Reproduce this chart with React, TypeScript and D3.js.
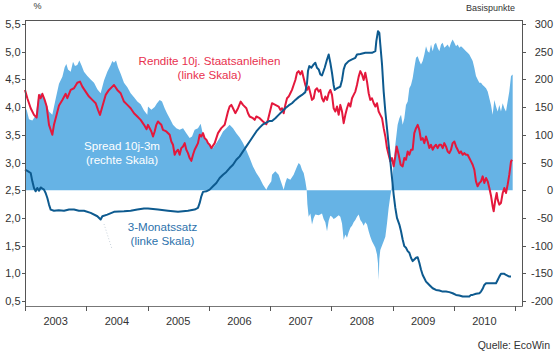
import React from 'react';
import * as d3 from 'd3';

const W = 556;
const H = 353;

const yearLabels = ['2003', '2004', '2005', '2006', '2007', '2008', '2009', '2010'];
const yearTicks = [2003, 2004, 2005, 2006, 2007, 2008, 2009, 2010, 2011];
const leftTicks = [0.5, 1, 1.5, 2, 2.5, 3, 3.5, 4, 4.5, 5, 5.5];
const rightTicks = [-200, -150, -100, -50, 0, 50, 100, 150, 200, 250, 300];

// Rendite 10j. Staatsanleihen (%), [decimal year, value]
const rendite: [number, number][] = [
  [2003.0, 4.31], [2003.038, 4.16], [2003.093, 3.98], [2003.147, 3.86], [2003.19, 3.81], [2003.229, 4.22],
  [2003.256, 4.16], [2003.283, 4.24], [2003.321, 4.13], [2003.354, 4.01], [2003.392, 3.68], [2003.446, 3.5],
  [2003.473, 3.68], [2003.501, 3.8], [2003.555, 4.03], [2003.61, 4.13], [2003.664, 4.24], [2003.691, 4.16],
  [2003.746, 4.31], [2003.8, 4.34], [2003.854, 4.44], [2003.898, 4.46], [2003.936, 4.37], [2003.99, 4.28],
  [2004.045, 4.19], [2004.099, 4.13], [2004.154, 4.07], [2004.192, 3.95], [2004.224, 3.86], [2004.263, 4.01],
  [2004.317, 4.22], [2004.371, 4.31], [2004.426, 4.37], [2004.453, 4.4], [2004.507, 4.31], [2004.562, 4.25],
  [2004.616, 4.1], [2004.671, 4.04], [2004.725, 3.98], [2004.78, 3.89], [2004.834, 3.83], [2004.888, 3.77],
  [2004.943, 3.68], [2004.985, 3.6], [2005.008, 3.68], [2005.063, 3.56], [2005.09, 3.47], [2005.117, 3.56],
  [2005.144, 3.68], [2005.171, 3.74], [2005.199, 3.71], [2005.226, 3.68], [2005.253, 3.59], [2005.307, 3.56],
  [2005.362, 3.5], [2005.389, 3.38], [2005.416, 3.32], [2005.444, 3.14], [2005.471, 3.2], [2005.498, 3.23],
  [2005.525, 3.14], [2005.552, 3.26], [2005.58, 3.29], [2005.607, 3.35], [2005.634, 3.23], [2005.661, 3.17],
  [2005.688, 3.08], [2005.716, 3.03], [2005.743, 3.14], [2005.77, 3.23], [2005.797, 3.29], [2005.824, 3.35],
  [2005.852, 3.5], [2005.879, 3.47], [2005.906, 3.53], [2005.933, 3.44], [2005.961, 3.41], [2005.988, 3.35],
  [2006.015, 3.32], [2006.042, 3.26], [2006.097, 3.35], [2006.151, 3.53], [2006.205, 3.62], [2006.26, 3.68],
  [2006.314, 3.92], [2006.341, 4.01], [2006.369, 4.04], [2006.396, 3.98], [2006.434, 3.89], [2006.478, 3.98],
  [2006.521, 4.1], [2006.559, 4.04], [2006.614, 3.98], [2006.641, 3.89], [2006.668, 3.83], [2006.722, 3.8],
  [2006.75, 3.77], [2006.777, 3.83], [2006.831, 3.8], [2006.886, 3.74], [2006.94, 3.69], [2006.967, 3.77],
  [2007.0, 3.92], [2007.033, 4.07], [2007.087, 4.04], [2007.141, 4.01], [2007.169, 3.95], [2007.196, 3.98],
  [2007.223, 3.89], [2007.25, 4.04], [2007.278, 4.16], [2007.305, 4.19], [2007.332, 4.25], [2007.359, 4.31],
  [2007.386, 4.4], [2007.414, 4.49], [2007.441, 4.62], [2007.468, 4.65], [2007.495, 4.59], [2007.522, 4.65],
  [2007.55, 4.52], [2007.577, 4.4], [2007.604, 4.31], [2007.631, 4.37], [2007.659, 4.25], [2007.686, 4.13],
  [2007.713, 4.16], [2007.74, 4.31], [2007.767, 4.34], [2007.795, 4.28], [2007.822, 4.31], [2007.849, 4.16],
  [2007.876, 4.1], [2007.903, 4.19], [2007.931, 4.13], [2007.958, 4.25], [2007.985, 4.31], [2008.012, 4.22],
  [2008.039, 3.98], [2008.067, 3.92], [2008.094, 4.01], [2008.121, 3.86], [2008.148, 4.04], [2008.176, 3.92],
  [2008.203, 3.71], [2008.23, 3.86], [2008.257, 3.98], [2008.284, 4.07], [2008.312, 4.01], [2008.339, 4.16],
  [2008.366, 4.22], [2008.393, 4.28], [2008.42, 4.4], [2008.448, 4.55], [2008.475, 4.65], [2008.502, 4.59],
  [2008.529, 4.49], [2008.556, 4.62], [2008.584, 4.46], [2008.611, 4.25], [2008.638, 4.13], [2008.665, 4.16],
  [2008.693, 4.07], [2008.72, 4.01], [2008.747, 4.07], [2008.774, 3.92], [2008.801, 3.86], [2008.829, 3.8],
  [2008.856, 3.62], [2008.883, 3.47], [2008.91, 3.26], [2008.937, 3.14], [2008.965, 3.02], [2008.992, 3.08],
  [2009.019, 2.93], [2009.046, 3.11], [2009.068, 3.29], [2009.101, 3.14], [2009.133, 2.96], [2009.166, 2.93],
  [2009.193, 3.08], [2009.22, 3.05], [2009.248, 3.2], [2009.275, 3.14], [2009.302, 3.23], [2009.329, 3.23],
  [2009.356, 3.53], [2009.384, 3.62], [2009.411, 3.68], [2009.438, 3.59], [2009.465, 3.41], [2009.493, 3.44],
  [2009.52, 3.35], [2009.547, 3.47], [2009.574, 3.38], [2009.601, 3.26], [2009.629, 3.32], [2009.656, 3.23],
  [2009.683, 3.29], [2009.71, 3.32], [2009.737, 3.26], [2009.765, 3.32], [2009.792, 3.32], [2009.819, 3.26],
  [2009.846, 3.35], [2009.873, 3.29], [2009.901, 3.2], [2009.928, 3.17], [2009.955, 3.23], [2009.982, 3.35],
  [2010.01, 3.38], [2010.037, 3.29], [2010.064, 3.23], [2010.091, 3.17], [2010.118, 3.2], [2010.146, 3.14],
  [2010.173, 3.17], [2010.2, 3.14], [2010.227, 3.14], [2010.254, 3.08], [2010.282, 3.02], [2010.309, 2.96],
  [2010.336, 2.87], [2010.363, 2.66], [2010.39, 2.57], [2010.418, 2.63], [2010.445, 2.66], [2010.472, 2.75],
  [2010.499, 2.63], [2010.527, 2.72], [2010.554, 2.66], [2010.581, 2.54], [2010.61, 2.39], [2010.635, 2.21],
  [2010.652, 2.12], [2010.679, 2.33], [2010.701, 2.45], [2010.717, 2.33], [2010.744, 2.24], [2010.771, 2.27],
  [2010.799, 2.45], [2010.826, 2.54], [2010.853, 2.45], [2010.88, 2.6], [2010.907, 2.78], [2010.935, 3.02],
  [2010.951, 3.05],
];

// 3-Monatssatz (%), [decimal year, value]
const monatssatz: [number, number][] = [
  [2003.0, 2.87], [2003.038, 2.85], [2003.093, 2.81], [2003.12, 2.66], [2003.147, 2.54], [2003.174, 2.48],
  [2003.201, 2.54], [2003.229, 2.49], [2003.256, 2.55], [2003.283, 2.53], [2003.31, 2.51], [2003.337, 2.45],
  [2003.365, 2.36], [2003.392, 2.24], [2003.419, 2.15], [2003.473, 2.13], [2003.55, 2.14], [2003.637, 2.13],
  [2003.72, 2.15], [2003.8, 2.15], [2003.88, 2.13], [2003.963, 2.13], [2004.072, 2.09], [2004.181, 2.03],
  [2004.235, 1.97], [2004.263, 2.03], [2004.344, 2.06], [2004.453, 2.11], [2004.616, 2.12], [2004.725, 2.13],
  [2004.834, 2.15], [2004.943, 2.17], [2005.008, 2.17], [2005.171, 2.15], [2005.334, 2.13], [2005.498, 2.11],
  [2005.661, 2.13], [2005.77, 2.15], [2005.824, 2.18], [2005.852, 2.27], [2005.879, 2.39], [2005.906, 2.47],
  [2005.961, 2.48], [2006.015, 2.51], [2006.069, 2.57], [2006.124, 2.63], [2006.178, 2.72], [2006.233, 2.78],
  [2006.287, 2.83], [2006.341, 2.9], [2006.396, 2.96], [2006.45, 3.05], [2006.505, 3.11], [2006.559, 3.2],
  [2006.614, 3.29], [2006.668, 3.38], [2006.722, 3.47], [2006.777, 3.56], [2006.831, 3.63], [2006.886, 3.69],
  [2006.94, 3.72], [2006.995, 3.75], [2007.033, 3.75], [2007.087, 3.8], [2007.141, 3.86], [2007.196, 3.92],
  [2007.25, 3.98], [2007.305, 4.03], [2007.359, 4.07], [2007.414, 4.13], [2007.468, 4.18], [2007.522, 4.22],
  [2007.577, 4.27], [2007.604, 4.43], [2007.62, 4.65], [2007.642, 4.74], [2007.675, 4.71], [2007.713, 4.77],
  [2007.74, 4.8], [2007.767, 4.71], [2007.795, 4.68], [2007.822, 4.59], [2007.849, 4.57], [2007.893, 4.71],
  [2007.931, 4.86], [2007.958, 4.95], [2007.985, 4.8], [2008.012, 4.62], [2008.039, 4.4], [2008.056, 4.31],
  [2008.094, 4.34], [2008.148, 4.37], [2008.176, 4.49], [2008.203, 4.68], [2008.23, 4.77], [2008.284, 4.83],
  [2008.339, 4.86], [2008.393, 4.89], [2008.42, 4.95], [2008.475, 4.96], [2008.556, 4.98], [2008.665, 4.98],
  [2008.72, 5.01], [2008.736, 5.19], [2008.763, 5.37], [2008.785, 5.34], [2008.801, 5.13], [2008.829, 4.77],
  [2008.856, 4.28], [2008.883, 3.92], [2008.91, 3.62], [2008.937, 3.32], [2008.965, 3.02], [2008.992, 2.72],
  [2009.019, 2.42], [2009.046, 2.18], [2009.073, 2.0], [2009.112, 1.88], [2009.139, 1.76], [2009.166, 1.61],
  [2009.193, 1.49], [2009.22, 1.46], [2009.248, 1.4], [2009.275, 1.37], [2009.302, 1.28], [2009.329, 1.22],
  [2009.356, 1.25], [2009.384, 1.28], [2009.411, 1.29], [2009.438, 1.19], [2009.465, 1.07], [2009.493, 0.97],
  [2009.52, 0.91], [2009.547, 0.85], [2009.574, 0.82], [2009.601, 0.79], [2009.656, 0.73], [2009.71, 0.7],
  [2009.765, 0.69], [2009.819, 0.67], [2009.873, 0.67], [2009.928, 0.66], [2009.982, 0.64], [2010.037, 0.61],
  [2010.091, 0.6], [2010.146, 0.58], [2010.2, 0.58], [2010.254, 0.58], [2010.282, 0.61], [2010.309, 0.61],
  [2010.363, 0.63], [2010.418, 0.64], [2010.445, 0.67], [2010.472, 0.72], [2010.499, 0.79], [2010.527, 0.82],
  [2010.581, 0.82], [2010.635, 0.82], [2010.69, 0.82], [2010.717, 0.88], [2010.744, 0.94], [2010.771, 0.99],
  [2010.799, 0.99], [2010.826, 0.99], [2010.853, 0.97], [2010.907, 0.94], [2010.935, 0.94],
];

// Spread 10j-3m (Basispunkte), [decimal year, value]
const spread: [number, number][] = [
  [2003.0, 148], [2003.027, 145], [2003.065, 128], [2003.12, 126], [2003.174, 135], [2003.212, 165],
  [2003.245, 175], [2003.283, 170], [2003.337, 160], [2003.392, 142], [2003.446, 136], [2003.501, 165],
  [2003.555, 192], [2003.61, 205], [2003.648, 222], [2003.675, 228], [2003.702, 218], [2003.746, 214],
  [2003.784, 232], [2003.816, 224], [2003.854, 226], [2003.887, 234], [2003.92, 226], [2003.963, 214],
  [2004.018, 206], [2004.072, 200], [2004.127, 194], [2004.181, 182], [2004.235, 175], [2004.29, 198],
  [2004.344, 214], [2004.399, 226], [2004.426, 233], [2004.453, 230], [2004.486, 234], [2004.518, 222],
  [2004.562, 210], [2004.616, 194], [2004.671, 186], [2004.725, 175], [2004.78, 168], [2004.834, 160],
  [2004.888, 155], [2004.943, 144], [2004.997, 136], [2005.008, 151], [2005.063, 145], [2005.117, 150],
  [2005.155, 157], [2005.199, 163], [2005.237, 160], [2005.28, 148], [2005.318, 139], [2005.362, 130],
  [2005.416, 118], [2005.471, 112], [2005.525, 109], [2005.58, 112], [2005.634, 103], [2005.688, 94],
  [2005.727, 97], [2005.77, 109], [2005.824, 112], [2005.868, 120], [2005.906, 100], [2005.961, 88],
  [2006.015, 82], [2006.069, 76], [2006.124, 85], [2006.178, 94], [2006.233, 106], [2006.287, 112],
  [2006.341, 118], [2006.396, 112], [2006.45, 103], [2006.505, 95], [2006.559, 85], [2006.614, 72],
  [2006.668, 58], [2006.722, 43], [2006.777, 31], [2006.831, 22], [2006.886, 10], [2006.94, 1],
  [2006.967, 7], [2007.022, 16], [2007.033, 28], [2007.087, 34], [2007.141, 28], [2007.196, 10],
  [2007.223, 1], [2007.25, 13], [2007.278, 22], [2007.332, 19], [2007.386, 28], [2007.441, 43],
  [2007.468, 49], [2007.495, 46], [2007.522, 37], [2007.55, 31], [2007.577, 16], [2007.599, 1],
  [2007.61, -25], [2007.631, -48], [2007.659, -42], [2007.686, -62], [2007.713, -50], [2007.74, -44],
  [2007.795, -45], [2007.849, -42], [2007.876, -52], [2007.903, -58], [2007.931, -74], [2007.958, -55],
  [2007.985, -46], [2008.012, -48], [2008.039, -52], [2008.067, -50], [2008.121, -45], [2008.148, -48],
  [2008.176, -60], [2008.203, -90], [2008.23, -80], [2008.257, -86], [2008.284, -76], [2008.312, -68],
  [2008.339, -64], [2008.366, -58], [2008.393, -54], [2008.42, -48], [2008.448, -44], [2008.475, -54],
  [2008.502, -58], [2008.529, -64], [2008.556, -58], [2008.584, -62], [2008.611, -74], [2008.638, -84],
  [2008.665, -92], [2008.693, -98], [2008.72, -104], [2008.747, -116], [2008.763, -132], [2008.774, -162],
  [2008.785, -124], [2008.801, -108], [2008.829, -100], [2008.856, -92], [2008.883, -84], [2008.91, -60],
  [2008.937, -32], [2008.965, -10], [2008.981, 0], [2009.003, 28], [2009.024, 58], [2009.046, 82],
  [2009.084, 118], [2009.112, 130], [2009.139, 136], [2009.166, 118], [2009.193, 130], [2009.22, 154],
  [2009.248, 160], [2009.275, 184], [2009.302, 190], [2009.329, 202], [2009.356, 221], [2009.384, 239],
  [2009.411, 242], [2009.438, 233], [2009.465, 227], [2009.493, 233], [2009.52, 245], [2009.547, 260],
  [2009.574, 251], [2009.601, 248], [2009.629, 263], [2009.656, 251], [2009.683, 263], [2009.71, 266],
  [2009.737, 257], [2009.765, 251], [2009.792, 263], [2009.819, 266], [2009.846, 257], [2009.873, 260],
  [2009.901, 263], [2009.928, 257], [2009.955, 266], [2009.982, 272], [2010.01, 266], [2010.037, 260],
  [2010.064, 263], [2010.091, 257], [2010.118, 260], [2010.146, 257], [2010.173, 254], [2010.2, 251],
  [2010.227, 248], [2010.254, 245], [2010.282, 239], [2010.309, 233], [2010.336, 221], [2010.363, 206],
  [2010.39, 200], [2010.418, 194], [2010.445, 194], [2010.472, 190], [2010.499, 187], [2010.527, 184],
  [2010.554, 178], [2010.581, 166], [2010.608, 154], [2010.635, 136], [2010.663, 163], [2010.69, 151],
  [2010.717, 142], [2010.744, 154], [2010.771, 142], [2010.799, 157], [2010.826, 148], [2010.853, 142],
  [2010.88, 160], [2010.907, 178], [2010.935, 206], [2010.962, 209],
];

const FONT = '"Liberation Sans", Arial, Helvetica, sans-serif';

export default function App() {
  const plot = { left: 25, right: 522, top: 20, bottom: 306 };
  const x = d3.scaleLinear().domain([2003, 2011]).range([25, 515]);
  const yL = d3.scaleLinear().domain([0.5, 5.5]).range([301, 24]);
  const yR = d3.scaleLinear().domain([-200, 300]).range([301, 24]);

  const line = d3
    .line<[number, number]>()
    .x((d) => x(d[0]))
    .y((d) => yL(d[1]));
  const area = d3
    .area<[number, number]>()
    .x((d) => x(d[0]))
    .y0(yR(0))
    .y1((d) => yR(d[1]));

  const fmtL = (v: number) => d3.format('.1f')(v).replace('.', ',');
  const frame = '#555';
  const textCol = '#333';

  return (
    <svg
      width={W}
      height={H}
      style={{ position: 'absolute', left: 0, top: 0, background: '#fff' }}
      fontFamily={FONT}
    >
      <rect x={0} y={0} width={W} height={H} fill="#fff" />
      {/* spread area */}
      <path d={area(spread) || ''} fill="#66b3e5" stroke="none" />

      {/* faint leader */}
      <line x1={104} y1={224} x2={112} y2={249} stroke="#c9d3dc" strokeWidth={1} strokeDasharray="1,2" />

      {/* lines */}
      <path d={line(rendite) || ''} fill="none" stroke="#e4183c" strokeWidth={2} strokeLinejoin="round" />
      <path d={line(monatssatz) || ''} fill="none" stroke="#0d5a8f" strokeWidth={2} strokeLinejoin="round" />

      {/* frame */}
      <line x1={plot.left + 0.5} y1={plot.top} x2={plot.left + 0.5} y2={plot.bottom + 0.5} stroke={frame} />
      <line x1={plot.right + 0.5} y1={plot.top} x2={plot.right + 0.5} y2={plot.bottom + 0.5} stroke={frame} />
      <line x1={plot.left} y1={plot.top + 0.5} x2={plot.right + 0.5} y2={plot.top + 0.5} stroke={frame} />
      <line x1={plot.left} y1={plot.bottom + 0.5} x2={plot.right + 0.5} y2={plot.bottom + 0.5} stroke="#777" />

      {/* left axis */}
      {leftTicks.map((t) => (
        <g key={'l' + t}>
          <line x1={22} x2={25} y1={Math.round(yL(t)) + 0.5} y2={Math.round(yL(t)) + 0.5} stroke={frame} />
          <text x={20.5} y={yL(t) + 4} textAnchor="end" fontSize={11} fill={textCol}>
            {fmtL(t)}
          </text>
        </g>
      ))}
      {/* right axis */}
      {rightTicks.map((t) => (
        <g key={'r' + t}>
          <line x1={522} x2={526} y1={Math.round(yR(t)) + 0.5} y2={Math.round(yR(t)) + 0.5} stroke={frame} />
          <text x={553} y={yR(t) + 4} textAnchor="end" fontSize={11} fill={textCol}>
            {t}
          </text>
        </g>
      ))}
      {/* bottom axis */}
      {yearTicks.map((t) => (
        <line key={'b' + t} x1={Math.round(x(t)) + 0.5} x2={Math.round(x(t)) + 0.5} y1={306} y2={311} stroke={frame} />
      ))}
      {yearLabels.map((lab) => {
        const yr = +lab;
        return (
          <text key={lab} x={(x(yr) + x(yr + 1)) / 2} y={325} textAnchor="middle" fontSize={11} fill={textCol}>
            {lab}
          </text>
        );
      })}

      {/* axis titles */}
      <text x={37.5} y={9} textAnchor="middle" fontSize={9} fill={textCol}>%</text>
      <text x={515} y={10.5} textAnchor="end" fontSize={9} fill={textCol}>Basispunkte</text>
      <text x={550} y={349} textAnchor="end" fontSize={10.5} fill={textCol}>Quelle: EcoWin</text>

      {/* annotations */}
      <g fontSize={11.6} textAnchor="middle">
        <text x={209.5} y={65} fill="#e8304e">Rendite 10j. Staatsanleihen</text>
        <text x={209.5} y={78.5} fill="#e8304e">(linke Skala)</text>
        <text x={122} y={149.5} fill="#ffffff">Spread 10j-3m</text>
        <text x={122} y={164} fill="#ffffff">(rechte Skala)</text>
        <text x={162.5} y={231} fill="#2c72ac">3-Monatssatz</text>
        <text x={162.5} y={245} fill="#2c72ac">(linke Skala)</text>
      </g>
    </svg>
  );
}
